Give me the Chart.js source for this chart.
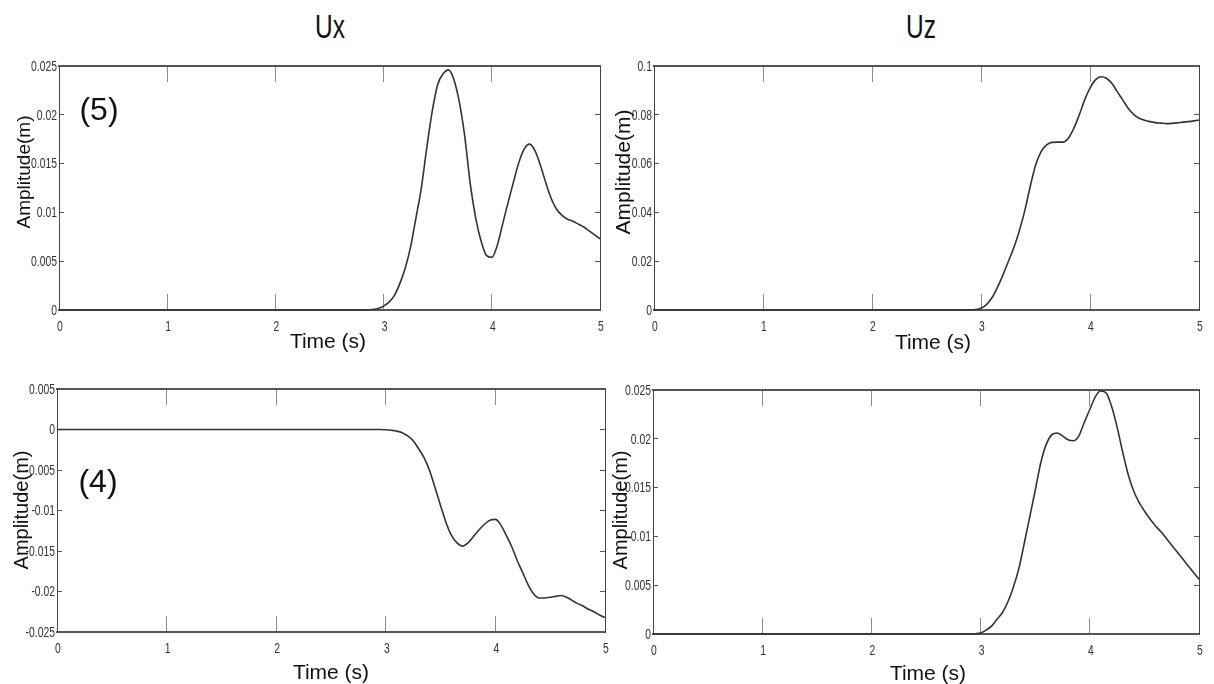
<!DOCTYPE html>
<html>
<head>
<meta charset="utf-8">
<script src="https://cdn.jsdelivr.net/npm/chart.js@4.4.1/dist/chart.umd.min.js"></script>
<style>
  body { margin: 0; background: #fff; }
  #fig { position: relative; width: 1214px; height: 684px; overflow: hidden;
         font-family: 'Liberation Sans', Arial, sans-serif; color: #111; }
  #fig canvas { position: absolute; }
  .lbl { position: absolute; white-space: nowrap; line-height: 1; transform: translate(-50%, -50%); }
  .rot { transform: translate(-50%, -50%) rotate(-90deg); }
  .head { font-size: 34px; color: #111; transform: translate(-50%, -50%) scaleX(0.72); }
</style>
</head>
<body>
<div id="fig">
  <canvas id="c1"></canvas>
  <canvas id="c2"></canvas>
  <canvas id="c3"></canvas>
  <canvas id="c4"></canvas>

  <div class="lbl head" style="left:330px;top:26px">Ux</div>
  <div class="lbl head" style="left:921px;top:26px">Uz</div>

  <div class="lbl rot" style="left:23px;top:172px;font-size:19px">Amplitude(m)</div>
  <div class="lbl rot" style="left:622px;top:172px;font-size:21px">Amplitude(m)</div>
  <div class="lbl rot" style="left:21px;top:510px;font-size:20px">Amplitude(m)</div>
  <div class="lbl rot" style="left:620px;top:510px;font-size:20px">Amplitude(m)</div>

  <div class="lbl" style="left:328px;top:340px;font-size:21px">Time (s)</div>
  <div class="lbl" style="left:933px;top:341px;font-size:21px">Time (s)</div>
  <div class="lbl" style="left:331px;top:671px;font-size:21px">Time (s)</div>
  <div class="lbl" style="left:928px;top:672px;font-size:21px">Time (s)</div>

  <div class="lbl" style="left:99px;top:109px;font-size:32px">(5)</div>
  <div class="lbl" style="left:98px;top:481px;font-size:32px">(4)</div>
</div>

<script>
// time samples (s): coarse while the record is flat, 0.05 s once motion starts
const time = [0, 0.5, 1, 1.5, 2, 2.5,
  2.8, 2.85, 2.9, 2.95,
  3.0, 3.05, 3.1, 3.15, 3.2, 3.25, 3.3, 3.35, 3.4, 3.45,
  3.5, 3.55, 3.6, 3.65, 3.7, 3.75, 3.8, 3.85, 3.9, 3.95,
  4.0, 4.05, 4.1, 4.15, 4.2, 4.25, 4.3, 4.35, 4.4, 4.45,
  4.5, 4.55, 4.6, 4.65, 4.7, 4.75, 4.8, 4.85, 4.9, 4.95,
  5.0];

// station (5), horizontal displacement
const ux5 = [0, 0, 0, 0, 0, 0,
  0, 0, 0.00005, 0.00015,
  0.0004, 0.0008, 0.0015, 0.0027, 0.0043, 0.0065, 0.0095, 0.0126, 0.0167, 0.0204,
  0.0231, 0.0242, 0.0246, 0.0236, 0.0213, 0.0178, 0.0130, 0.0095, 0.0071, 0.0056,
  0.0054, 0.0066, 0.0088, 0.0110, 0.0131, 0.0151, 0.0165, 0.0170, 0.0163, 0.0148,
  0.0130, 0.0114, 0.0103, 0.0097, 0.0093, 0.0091, 0.0088, 0.0085, 0.0081, 0.0077,
  0.0073];

// station (5), vertical displacement
const uz5 = [0, 0, 0, 0, 0, 0,
  0, 0, 0.0001, 0.0002,
  0.0007, 0.0022, 0.0050, 0.0092, 0.0142, 0.0198, 0.0254, 0.0322, 0.0404, 0.0503,
  0.0592, 0.0648, 0.0676, 0.0687, 0.0688, 0.0688, 0.0703, 0.0743, 0.0798, 0.0860,
  0.0909, 0.0943, 0.0956, 0.0950, 0.0929, 0.0895, 0.0861, 0.0827, 0.0802, 0.0786,
  0.0778, 0.0772, 0.0768, 0.0766, 0.0764, 0.0765, 0.0767, 0.0770, 0.0772, 0.0775,
  0.0779];

// station (4), horizontal displacement
const ux4 = [0, 0, 0, 0, 0, 0,
  0, 0, 0, 0,
  -0.00004, -0.0001, -0.0002, -0.0004, -0.0008, -0.0014, -0.0024, -0.0035, -0.0051, -0.0072,
  -0.0094, -0.0115, -0.0131, -0.0140, -0.0144, -0.0140, -0.0132, -0.0124, -0.0117, -0.0112,
  -0.0111, -0.0118, -0.0131, -0.0145, -0.0162, -0.0177, -0.0192, -0.0203, -0.0208, -0.0208,
  -0.0207, -0.0206, -0.0205, -0.0207, -0.0211, -0.0215, -0.0218, -0.0222, -0.0225, -0.0229,
  -0.0232];

// station (4), vertical displacement
const uz4 = [0, 0, 0, 0, 0, 0,
  0, 0, 0, 0.00003,
  0.0001, 0.0004, 0.0008, 0.0015, 0.0022, 0.0033, 0.0048, 0.0067, 0.0093, 0.0120,
  0.0147, 0.0175, 0.0194, 0.0204, 0.0206, 0.0203, 0.0199, 0.0198, 0.0203, 0.0217,
  0.0230, 0.0243, 0.0249, 0.0247, 0.0233, 0.0212, 0.0187, 0.0164, 0.0147, 0.0135,
  0.0126, 0.0118, 0.0111, 0.0105, 0.0098, 0.0091, 0.0084, 0.0077, 0.0070, 0.0063,
  0.0056];

// tick values
const timeTicks = [0, 1, 2, 3, 4, 5];
const ticksSmall = [0, 0.005, 0.01, 0.015, 0.02, 0.025];
const ticksLarge = [0, 0.02, 0.04, 0.06, 0.08, 0.1];
const ticksNeg = [-0.025, -0.02, -0.015, -0.01, -0.005, 0, 0.005];

// margins of each canvas around its plot box
const ML = 55, MT = 12, MR = 10, MB = 50;

function setTicks(list) {
  return scale => { scale.ticks = list.map(v => ({ value: v })); };
}
const fmt = v => String(+v.toFixed(4));

// condensed tick numbers, placed from the x / y scales
const narrowTicks = {
  id: 'narrowTicks',
  afterDraw(chart) {
    const ctx = chart.ctx;
    const xs = chart.scales.x, ys = chart.scales.y;
    const put = (txt, x, y) => {
      ctx.save();
      ctx.translate(x, y);
      ctx.scale(0.74, 1);
      ctx.fillText(txt, 0, 0);
      ctx.restore();
    };
    ctx.save();
    ctx.fillStyle = '#333';
    ctx.font = '14px "Liberation Sans", Arial, sans-serif';
    ctx.textAlign = 'center';
    ctx.textBaseline = 'top';
    xs.ticks.forEach(t => put(fmt(t.value), xs.getPixelForValue(t.value) + 1, xs.top + 10));
    ctx.textAlign = 'right';
    ctx.textBaseline = 'middle';
    ys.ticks.forEach(t => put(fmt(t.value), ys.right - 2, ys.getPixelForValue(t.value) + 1));
    ctx.restore();
  }
};

function panel(id, box, values, yTicks) {
  const cv = document.getElementById(id);
  const w = box.r - box.l + ML + MR;
  const h = box.b - box.t + MT + MB;
  cv.width = w; cv.height = h;
  cv.style.left = (box.l - ML) + 'px';
  cv.style.top = (box.t - MT) + 'px';

  const yMin = yTicks[0], yMax = yTicks[yTicks.length - 1];
  const xGrid = { drawOnChartArea: false, tickLength: -16, color: '#8a8a8a', lineWidth: 1 };
  const yGrid = { drawOnChartArea: false, tickLength: -5, color: '#555', lineWidth: 1 };
  const xBorder = { color: '#555', width: 2 };
  const yBorder = { color: '#444', width: 1 };
  const fitX = hgt => s => { s.height = hgt; s.paddingLeft = 0; s.paddingRight = 0; };
  const fitY = wid => s => { s.width = wid; s.paddingTop = 0; s.paddingBottom = 0; };

  return new Chart(cv.getContext('2d'), {
    type: 'line',
    data: {
      datasets: [{
        data: time.map((t, i) => ({ x: t, y: values[i] })),
        borderColor: '#333',
        borderWidth: 1.6,
        pointRadius: 0,
        tension: 0.4,
        cubicInterpolationMode: 'monotone',
        clip: 4
      }]
    },
    options: {
      responsive: false,
      animation: false,
      devicePixelRatio: 1,
      layout: { padding: { top: MT, right: MR, left: 0, bottom: 0 } },
      plugins: { legend: { display: false }, tooltip: { enabled: false } },
      scales: {
        x: {
          type: 'linear', position: 'bottom', min: 0, max: 5,
          afterBuildTicks: setTicks(timeTicks),
          afterFit: fitX(MB),
          ticks: { display: false },
          grid: xGrid, border: xBorder
        },
        xTop: {
          type: 'linear', position: 'top', min: 0, max: 5,
          afterBuildTicks: setTicks(timeTicks),
          afterFit: fitX(0),
          ticks: { display: false },
          grid: xGrid, border: xBorder
        },
        y: {
          type: 'linear', position: 'left', min: yMin, max: yMax,
          afterBuildTicks: setTicks(yTicks),
          afterFit: fitY(ML),
          ticks: { display: false },
          grid: yGrid, border: yBorder
        },
        yRight: {
          type: 'linear', position: 'right', min: yMin, max: yMax,
          afterBuildTicks: setTicks(yTicks),
          afterFit: fitY(0),
          ticks: { display: false },
          grid: yGrid, border: yBorder
        }
      }
    },
    plugins: [narrowTicks]
  });
}

panel('c1', { l: 59, t: 66, r: 600, b: 310 }, ux5, ticksSmall);
panel('c2', { l: 654, t: 66, r: 1199, b: 310 }, uz5, ticksLarge);
panel('c3', { l: 57, t: 389, r: 605, b: 632 }, ux4, ticksNeg);
panel('c4', { l: 653, t: 390, r: 1199, b: 634 }, uz4, ticksSmall);
</script>
</body>
</html>
